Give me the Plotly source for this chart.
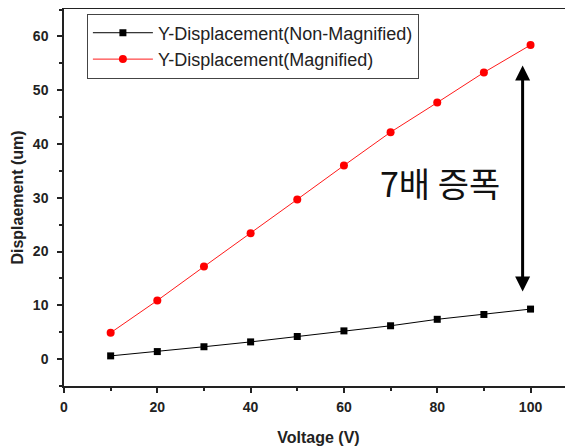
import plotly.graph_objects as go

voltage = [10, 20, 30, 40, 50, 60, 70, 80, 90, 100]
non_magnified = [0.6, 1.4, 2.3, 3.2, 4.2, 5.25, 6.2, 7.4, 8.3, 9.3]
magnified = [4.9, 10.9, 17.2, 23.4, 29.7, 36.0, 42.2, 47.7, 53.3, 58.4]

name_non = "Y-Displacement(Non-Magnified)"
name_mag = "Y-Displacement(Magnified)"
x_title = "Voltage (V)"
y_title = "Displaement (um)"
note_text = "7배 증폭"
arrow_x = 98.3
arrow_top = 54.6
arrow_bottom = 12.3
note_x = 80.6
note_y = 32.8

fig = go.Figure()
fig.add_trace(go.Scatter(
    x=voltage, y=non_magnified, name=name_non, mode="lines+markers",
    line=dict(color="black", width=1),
    marker=dict(symbol="square", size=7, color="black"),
))
fig.add_trace(go.Scatter(
    x=voltage, y=magnified, name=name_mag, mode="lines+markers",
    line=dict(color="#ff1a1a", width=1),
    marker=dict(symbol="circle", size=8, color="#ff0000"),
))

fig.add_annotation(
    x=arrow_x, y=arrow_top, ax=arrow_x, ay=arrow_bottom,
    xref="x", yref="y", axref="x", ayref="y",
    text="", showarrow=True, arrowside="end+start",
    arrowhead=2, arrowsize=1, arrowwidth=3, arrowcolor="black",
)
fig.add_annotation(
    x=note_x, y=note_y, xref="x", yref="y", text=note_text, showarrow=False,
    font=dict(family="Noto Sans CJK KR", size=34, color="#111111"),
)

fig.update_layout(
    width=565, height=439,
    margin=dict(l=56, r=0, t=1, b=61, autoexpand=False),
    paper_bgcolor="white", plot_bgcolor="white",
    showlegend=True,
    legend=dict(
        x=0.045, y=0.988, xanchor="left", yanchor="top",
        bordercolor="#444444", borderwidth=1, bgcolor="white",
        font=dict(family="Liberation Sans, Arial", size=18, color="#222222"),
        tracegroupgap=0, itemwidth=60,
    ),
    xaxis=dict(
        range=[0, 109.1], tickmode="linear", tick0=0, dtick=20, automargin=False,
        showline=True, linecolor="#222222", linewidth=1.5, mirror=True,
        ticks="outside", ticklen=5, tickwidth=1.5, tickcolor="#222222",
        ticklabelstandoff=2,
        minor=dict(ticks="outside", ticklen=3, dtick=10, tickcolor="#222222"),
        showgrid=False, zeroline=False,
        tickfont=dict(family="Liberation Sans, Arial", size=14, color="#222222", weight="bold"),
        title=dict(text=x_title, standoff=18,
                   font=dict(family="Liberation Sans, Arial", size=16, color="#222222", weight="bold")),
    ),
    yaxis=dict(
        range=[-5, 65.1], tickmode="linear", tick0=0, dtick=10, automargin=False,
        showline=True, linecolor="#222222", linewidth=1.5, mirror=False,
        ticks="outside", ticklen=5, tickwidth=1.5, tickcolor="#222222",
        ticklabelstandoff=6,
        minor=dict(ticks="outside", ticklen=3, dtick=5, tickcolor="#222222"),
        showgrid=False, zeroline=False,
        tickfont=dict(family="Liberation Sans, Arial", size=14, color="#222222", weight="bold"),
        title=dict(text=y_title, standoff=5,
                   font=dict(family="Liberation Sans, Arial", size=16, color="#222222", weight="bold")),
    ),
)

fig.write_html("out.html")
